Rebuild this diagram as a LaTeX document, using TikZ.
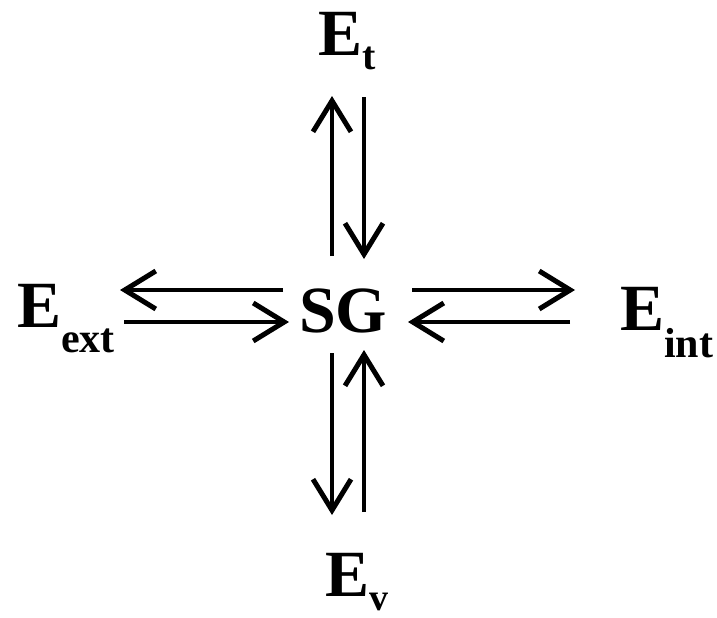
\documentclass[tikz,border=0pt]{standalone}
\usepackage{fontspec}
\setmainfont{Liberation Serif}
\usetikzlibrary{arrows.meta}
\tikzset{
  lbl/.style={inner sep=0pt, font=\bfseries\fontsize{66}{66}\selectfont},
  conn/.style={line width=3.3pt, -{Straight Barb[length=31pt,width=38pt,line width=5pt]}}
}
\newcommand{\sbx}[3]{\raisebox{-#1pt}{\fontsize{#2}{#2}\selectfont #3}}
\begin{document}
\begin{tikzpicture}[x=1pt,y=-1pt]
\useasboundingbox (0,0) rectangle (717,618);
\node[lbl, anchor=base west] (Et) at (318,56) {E\sbx{14}{40}{t}};
\node[lbl, anchor=base west] (Eext) at (17,327) {E\sbx{25}{42}{ext}};
\node[lbl, anchor=base west] (SG) at (299,332) {SG};
\node[lbl, anchor=base west] (Eint) at (620,330) {E\sbx{27}{42}{int}};
\node[lbl, anchor=base west] (Ev) at (325,596) {E\sbx{14}{38}{v}};
% top pair
\coordinate (t1s) at (332,256); \coordinate (t1e) at (332,96);
\coordinate (t2s) at (364,97);  \coordinate (t2e) at (364,259);
\draw[conn] (t1s) -- (t1e);
\draw[conn] (t2s) -- (t2e);
% left pair
\coordinate (l1s) at (283,290); \coordinate (l1e) at (120,290);
\coordinate (l2s) at (124,322); \coordinate (l2e) at (289,322);
\draw[conn] (l1s) -- (l1e);
\draw[conn] (l2s) -- (l2e);
% right pair
\coordinate (r1s) at (412,290); \coordinate (r1e) at (575,290);
\coordinate (r2s) at (570,322); \coordinate (r2e) at (408,322);
\draw[conn] (r1s) -- (r1e);
\draw[conn] (r2s) -- (r2e);
% bottom pair
\coordinate (b1s) at (332,353); \coordinate (b1e) at (332,515);
\coordinate (b2s) at (364,512); \coordinate (b2e) at (364,350);
\draw[conn] (b1s) -- (b1e);
\draw[conn] (b2s) -- (b2e);
\end{tikzpicture}
\end{document}
